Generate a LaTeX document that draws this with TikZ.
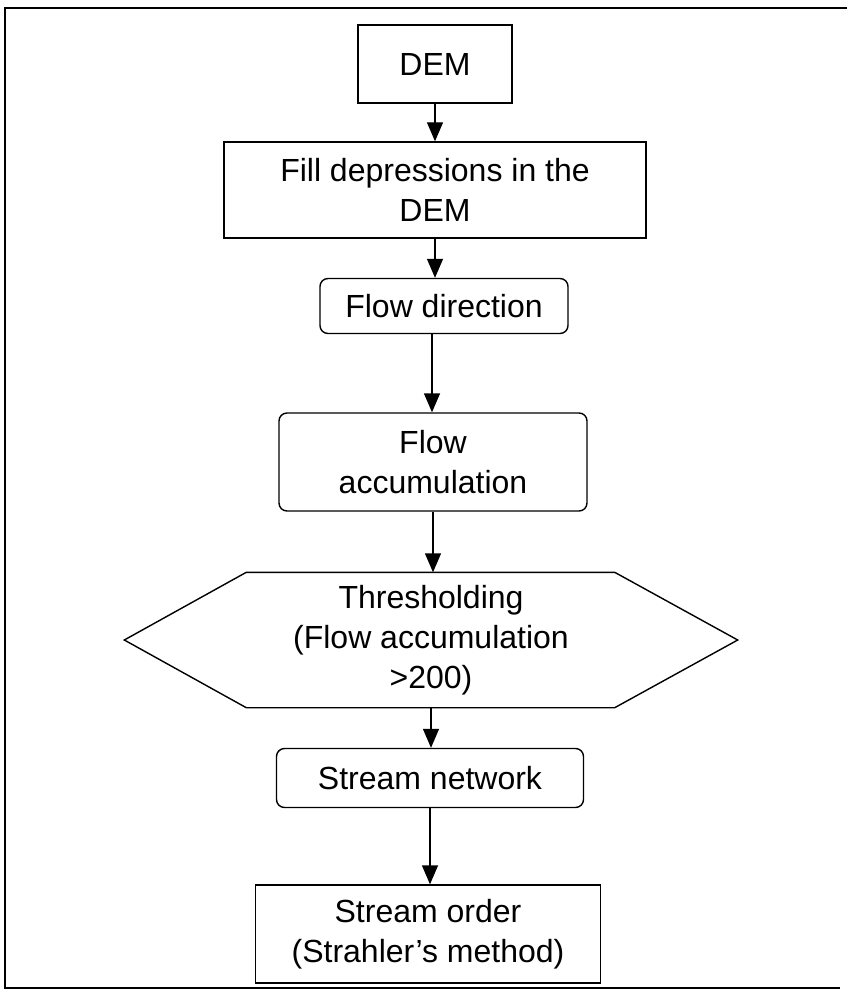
\documentclass[tikz,border=0pt]{standalone}
\usepackage{fontspec}
\setmainfont{Liberation Sans}
\usetikzlibrary{arrows.meta}

\tikzset{
    procbox/.style={draw, line width=1.4pt, align=center, inner sep=0pt},
    roundbox/.style={procbox, rounded corners=8pt},
    flowarrow/.style={line width=1.4pt, -{Triangle[length=19pt,width=16pt]}}
}

\begin{document}
\begin{tikzpicture}[x=1pt, y=-1pt, font=\fontsize{32}{40}\selectfont]
    \useasboundingbox (0,0) rectangle (847,995);
    % frame
    \draw[line width=1.6pt] (847,8) -- (5,8) -- (5,988) -- (840,988);

    \node[procbox, minimum width=154pt, minimum height=78pt] (dem) at (435,64) {DEM};
    \node[procbox, minimum width=422pt, minimum height=96pt] (fill) at (435,190) {Fill depressions in the\\DEM};
    \node[roundbox, minimum width=248pt, minimum height=55pt] (fdir) at (444,306) {Flow direction};
    \node[roundbox, minimum width=308pt, minimum height=98pt] (facc) at (433,462) {Flow\\accumulation};
    \node[inner sep=0pt, align=center, minimum width=613pt, minimum height=135pt] (thr) at (431,640) {Thresholding\\(Flow accumulation\\>200)};
    \draw[line width=1.4pt] (thr.west) -- ([xshift=122pt]thr.north west) -- ([xshift=-123pt]thr.north east)
        -- (thr.east) -- ([xshift=-123pt]thr.south east) -- ([xshift=122pt]thr.south west) -- cycle;
    \node[roundbox, minimum width=307pt, minimum height=59pt] (snet) at (430,778) {Stream network};
    \node[procbox, minimum width=345pt, minimum height=98pt] (sord) at (428,934) {Stream order\\(Strahler's method)};

    \draw[flowarrow] (dem) -- (fill);
    \draw[flowarrow] (fill.south) -- (fill.south |- fdir.north);
    \draw[flowarrow] ([xshift=-12pt]fdir.south) -- ([xshift=-12pt]fdir.south |- facc.north);
    \draw[flowarrow] (facc.south) -- (facc.south |- thr.north);
    \draw[flowarrow] (thr.south) -- (thr.south |- snet.north);
    \draw[flowarrow] (snet.south) -- (snet.south |- sord.north);
\end{tikzpicture}
\end{document}
